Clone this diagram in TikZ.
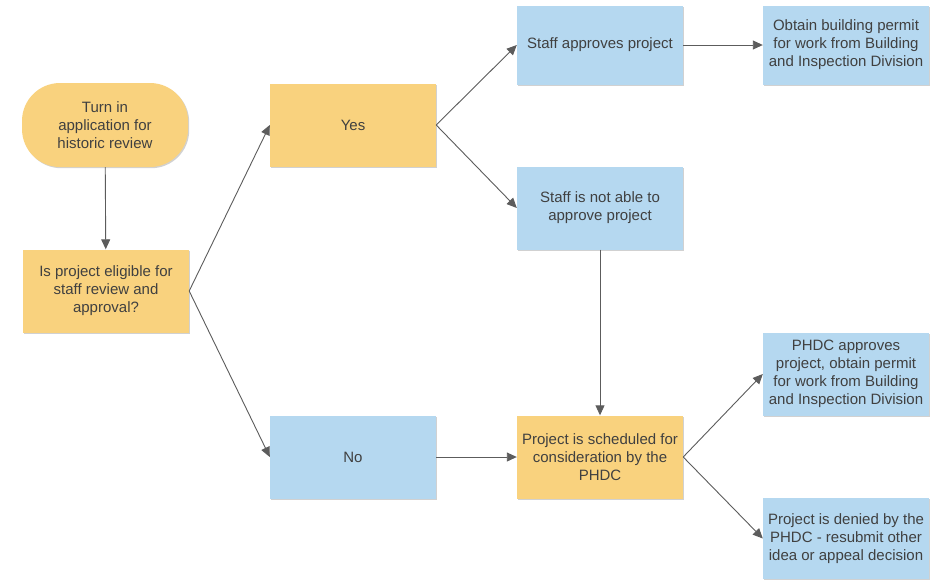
\documentclass[tikz,border=0pt]{standalone}
\usepackage{fontspec}
\setmainfont{Liberation Sans}
\usepackage{tikz}
\usetikzlibrary{arrows.meta, shadows}

\definecolor{stepfill}{HTML}{F9D27E}
\definecolor{resultfill}{HTML}{B5D8F0}
\definecolor{textgray}{HTML}{404040}
\definecolor{linegray}{HTML}{5C5C5C}

\begin{document}
\begin{tikzpicture}[x=1pt, y=-1pt,
    box/.style={rectangle, minimum width=166pt, minimum height=83pt, inner sep=2pt, align=center,
        text=textgray, font=\fontsize{15}{18}\selectfont,
        drop shadow={shadow xshift=1.2pt, shadow yshift=-1.2pt, opacity=0.18, fill=black}},
    pill/.style={box, rounded corners=38pt},
    arrow/.style={-{Triangle[length=10pt, width=9pt]}, linegray, line width=0.9pt}
]
\useasboundingbox (0,0) rectangle (941,579);

% Start and question
\node[pill, fill=stepfill, minimum height=84pt] (start) at (105,125) {Turn in\\application for\\historic review};
\node[box, fill=stepfill] (eligible) at (106,291) {Is project eligible for\\staff review and\\approval?};

% Answers
\node[box, fill=stepfill] (yes) at (353,125) {Yes};
\node[box, fill=resultfill] (no) at (353,457) {No};

% Staff review
\node[box, fill=resultfill, minimum height=79pt] (staffok) at (600,45) {Staff approves project};
\node[box, fill=resultfill] (staffnot) at (600,208) {Staff is not able to\\approve project};
\node[box, fill=resultfill, minimum height=79pt] (permit) at (846,45) {Obtain building permit\\for work from Building\\and Inspection Division};

% PHDC
\node[box, fill=stepfill] (phdc) at (600,457) {Project is scheduled for\\consideration by the\\PHDC};
\node[box, fill=resultfill] (phdcok) at (846,374) {PHDC approves\\project, obtain permit\\for work from Building\\and Inspection Division};
\node[box, fill=resultfill, minimum height=81pt] (denied) at (846,538.5) {Project is denied by the\\PHDC - resubmit other\\idea or appeal decision};

% Arrows
\draw[arrow] (start) -- (eligible);
\draw[arrow] (eligible.east) -- (yes.west);
\draw[arrow] (eligible.east) -- (no.west);
\draw[arrow] (yes.east) -- (staffok.west);
\draw[arrow] (yes.east) -- (staffnot.west);
\draw[arrow] (staffok) -- (permit);
\draw[arrow] (staffnot) -- (phdc);
\draw[arrow] (no) -- (phdc);
\draw[arrow] (phdc.east) -- (phdcok.west);
\draw[arrow] (phdc.east) -- (denied.west);

\end{tikzpicture}
\end{document}
